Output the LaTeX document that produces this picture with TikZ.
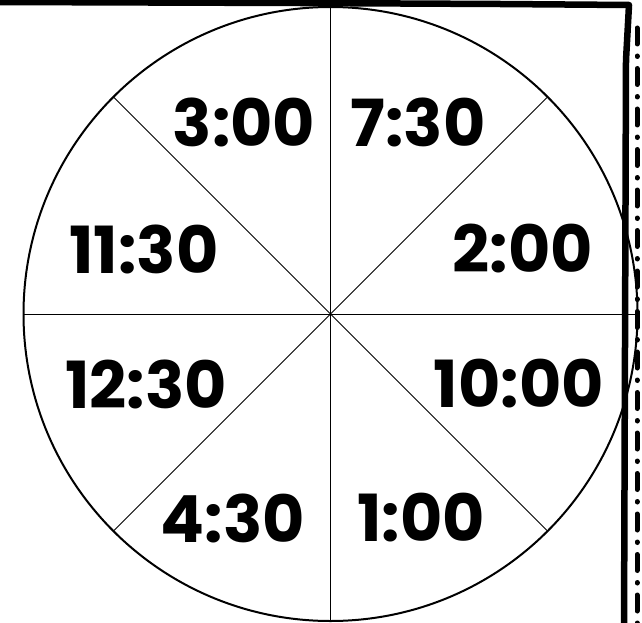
\documentclass[tikz,border=0pt]{standalone}
\usepackage{fontspec}
\setmainfont{Poppins}
\begin{document}
\begin{tikzpicture}[x=1pt,y=-1pt,
  lbl/.style={font=\fontsize{65}{65}\selectfont\bfseries, inner sep=0pt, anchor=center},
  sector/.style={line width=0.8pt},
  rim/.style={line width=2pt},
  frame/.style={line width=6.5pt, line cap=round, line join=round},
  dotdash/.style={line width=5pt, line cap=round, dash pattern=on 16pt off 12pt on 0.5pt off 12pt}]
\useasboundingbox (0,0) rectangle (642,623);
\coordinate (c) at (330.5,314);
\foreach \a in {0,45,...,315}{
  \draw[sector] (c) -- ++(\a:307);
}
\draw[rim] (c) circle[radius=307];
\draw[frame] (-5,2) -- (300,3) -- (500,4) -- (629,5) -- (626,60) -- (624,630);
\draw[dotdash] (637,28) -- (637,623);
\node[lbl] (a) at (244,122) {3:00};
\node[lbl] (b) at (418,122) {7:30};
\node[lbl] (d) at (144,249) {11:30};
\node[lbl] (e) at (523,249) {2:00};
\node[lbl] (f) at (146,384) {12:30};
\node[lbl] (g) at (519,384) {10:00};
\node[lbl] (h) at (233,518) {4:30};
\node[lbl] (i) at (421,518) {1:00};
\end{tikzpicture}
\end{document}
